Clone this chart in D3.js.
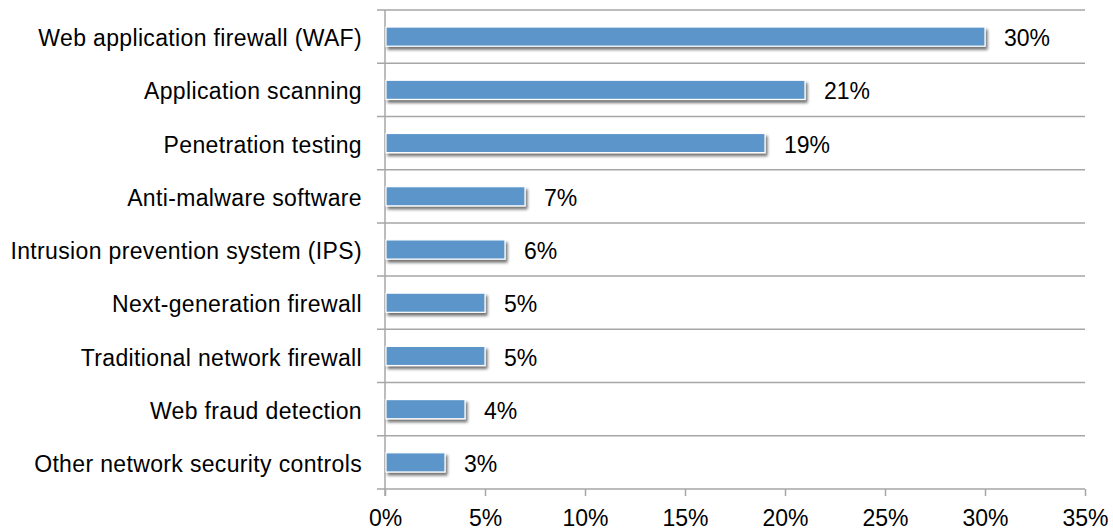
<!DOCTYPE html>
<html><head><meta charset="utf-8">
<script src="https://cdn.jsdelivr.net/npm/d3@7"></script>
<style>body{margin:0;background:#fff}svg{display:block}text{font-family:"Liberation Sans",Arial,sans-serif;fill:#000}</style>
</head><body>
<svg id="c" width="1113" height="531"></svg>
<script>
const categories = ["Web application firewall (WAF)","Application scanning","Penetration testing","Anti-malware software","Intrusion prevention system (IPS)","Next-generation firewall","Traditional network firewall","Web fraud detection","Other network security controls"];
const values = [30,21,19,7,6,5,5,4,3];
const tickValues = [0,5,10,15,20,25,30,35];

(function(){
const svg = d3.select("#c");
const pL = 385, pR = 1085, pT = 10, pB = 489;
const FS = 23;
const x = d3.scaleLinear().domain([0,35]).range([pL,pR]);
const y = d3.scaleBand().domain(categories).range([pT,pB]).paddingInner(0.64).paddingOuter(0.32);
const band = (pB-pT)/categories.length;

const defs = svg.append("defs");
const f = defs.append("filter").attr("id","sh").attr("x","-5%").attr("y","-30%").attr("width","115%").attr("height","190%");
f.append("feGaussianBlur").attr("in","SourceAlpha").attr("stdDeviation",1.6).attr("result","b");
f.append("feOffset").attr("in","b").attr("dx",1.5).attr("dy",3).attr("result","o");
f.append("feComponentTransfer").attr("in","o").attr("result","o2").append("feFuncA").attr("type","linear").attr("slope",0.55);
const m = f.append("feMerge"); m.append("feMergeNode").attr("in","o2"); m.append("feMergeNode").attr("in","SourceGraphic");

// gridlines (category boundaries)
const bounds = d3.range(categories.length+1).map(i=>pT+i*band);
svg.append("g").selectAll("line").data(bounds).join("line")
  .attr("x1",377).attr("x2",pR).attr("y1",d=>d).attr("y2",d=>d)
  .attr("stroke","#a6a6a6").attr("stroke-width",1.5);

// x axis
const xAxis = d3.axisBottom(x).tickValues(tickValues).tickFormat(d=>d+"%").tickSize(7).tickPadding(14);
const gx = svg.append("g").attr("transform",`translate(0,${pB})`).call(xAxis);
gx.select(".domain").remove();
gx.selectAll(".tick line").attr("stroke","#a6a6a6").attr("stroke-width",1.5);
gx.selectAll(".tick text").attr("font-size",FS).attr("font-family","Liberation Sans, Arial, sans-serif").attr("fill","#000");
svg.append("line").attr("x1",pL).attr("x2",pL).attr("y1",pT).attr("y2",pB+7).attr("stroke","#a6a6a6").attr("stroke-width",1.5);

// bars
svg.append("g").selectAll("rect").data(values).join("rect")
  .attr("x",x(0)+1).attr("y",(d,i)=>y(categories[i]))
  .attr("width",d=>x(d)-x(0)-1).attr("height",y.bandwidth())
  .attr("fill","#5b95c9").attr("stroke","#fff").attr("stroke-width",1.2)
  .attr("filter","url(#sh)");

// value labels
svg.append("g").selectAll("text").data(values).join("text")
  .attr("x",d=>x(d)+19).attr("y",(d,i)=>y(categories[i])+y.bandwidth()/2)
  .attr("dy","0.42em").attr("font-size",FS).text(d=>d+"%");

// category labels
svg.append("g").selectAll("text").data(categories).join("text")
  .attr("x",362).attr("y",d=>y(d)+y.bandwidth()/2).attr("dy","0.42em")
  .attr("text-anchor","end").attr("font-size",FS).attr("letter-spacing",0.35).text(d=>d);
})();
</script>
</body></html>
